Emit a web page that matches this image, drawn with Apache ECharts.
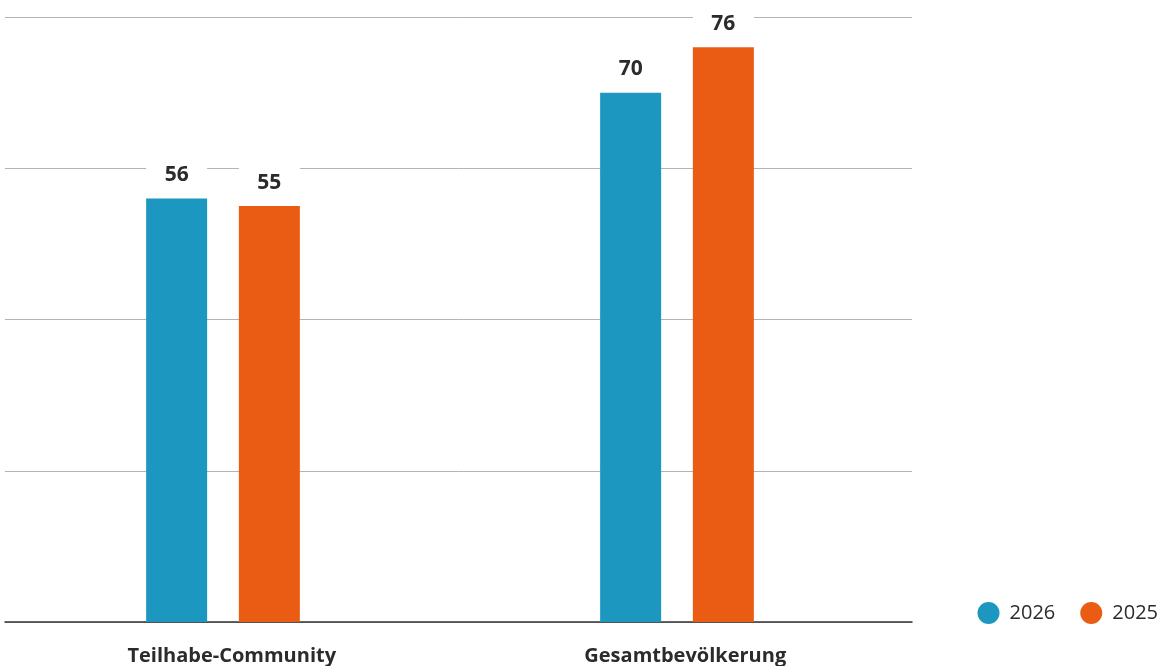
<!DOCTYPE html>
<html>
<head>
<meta charset="utf-8">
<script src="https://cdn.jsdelivr.net/npm/echarts@6/dist/echarts.min.js"></script>
<style>
  html, body { margin: 0; padding: 0; background: #fff; overflow: hidden; }
  body { width: 1160px; height: 666px; position: relative; }
  /* the canvas starts a little left of the page so the bar grid can begin off-page */
  #chart { position: absolute; left: -10px; top: 0; width: 1170px; height: 666px; }
</style>
</head>
<body>
<div id="chart"></div>
<script>
// Survey groups and yearly shares
const categories = ['Teilhabe-Community', 'Gesamtbevölkerung'];
const values2026 = [56, 70];
const values2025 = [55, 76];
const seriesNames = ['2026', '2025'];

const FONT = '"Open Sans", "Noto Sans", sans-serif';
const TEXT = '#2b2b2b';
const BAR_W = 61;

function barLabel() {
  return {
    show: true,
    position: 'top',
    distance: 3,
    formatter: '{c}',
    backgroundColor: '#ffffff',
    width: BAR_W,
    align: 'center',
    padding: [10, 0, 10, 0],
    fontFamily: FONT,
    fontWeight: 'bold',
    fontSize: 21,
    lineHeight: 21,
    color: TEXT
  };
}

const chart = echarts.init(document.getElementById('chart'), null, { renderer: 'canvas' });

chart.setOption({
  animation: false,
  backgroundColor: '#ffffff',
  legend: {
    data: seriesNames,
    right: 2,
    top: 602,
    padding: 0,
    icon: 'circle',
    itemWidth: 22,
    itemHeight: 22,
    itemGap: 25,
    textStyle: { fontFamily: FONT, fontSize: 20, color: TEXT, padding: [0, 0, 0, 5] }
  },
  grid: [
    // bars
    { left: 6, right: 256, top: 17, bottom: 44 },
    // grid lines, baseline and category labels
    { left: 15, right: 248, top: 17, bottom: 44 }
  ],
  xAxis: [
    {
      gridIndex: 0, type: 'category', data: categories,
      axisLine: { show: false }, axisTick: { show: false }, axisLabel: { show: false }
    },
    {
      gridIndex: 1, type: 'category', data: categories,
      axisLine: { show: true, lineStyle: { color: '#333333', width: 1.5 } },
      axisTick: { show: false },
      axisLabel: {
        margin: 24,
        fontFamily: FONT, fontWeight: 'bold', fontSize: 20, color: TEXT
      }
    }
  ],
  yAxis: [
    {
      gridIndex: 0, type: 'value', min: 0, max: 80, interval: 20,
      axisLine: { show: false }, axisTick: { show: false },
      axisLabel: { show: false }, splitLine: { show: false }
    },
    {
      gridIndex: 1, type: 'value', min: 0, max: 80, interval: 20,
      axisLine: { show: false }, axisTick: { show: false },
      axisLabel: { show: false },
      splitLine: { show: true, lineStyle: { color: '#b3b3b3', width: 1 } }
    }
  ],
  series: [
    {
      name: seriesNames[0], type: 'bar', xAxisIndex: 0, yAxisIndex: 0,
      data: values2026, barWidth: BAR_W, barGap: '52%',
      itemStyle: { color: '#1b97c0' },
      label: barLabel(), z: 3
    },
    {
      name: seriesNames[1], type: 'bar', xAxisIndex: 0, yAxisIndex: 0,
      data: values2025, barWidth: BAR_W, barGap: '52%',
      itemStyle: { color: '#ea5c13' },
      label: barLabel(), z: 3
    }
  ]
});
</script>
</body>
</html>
